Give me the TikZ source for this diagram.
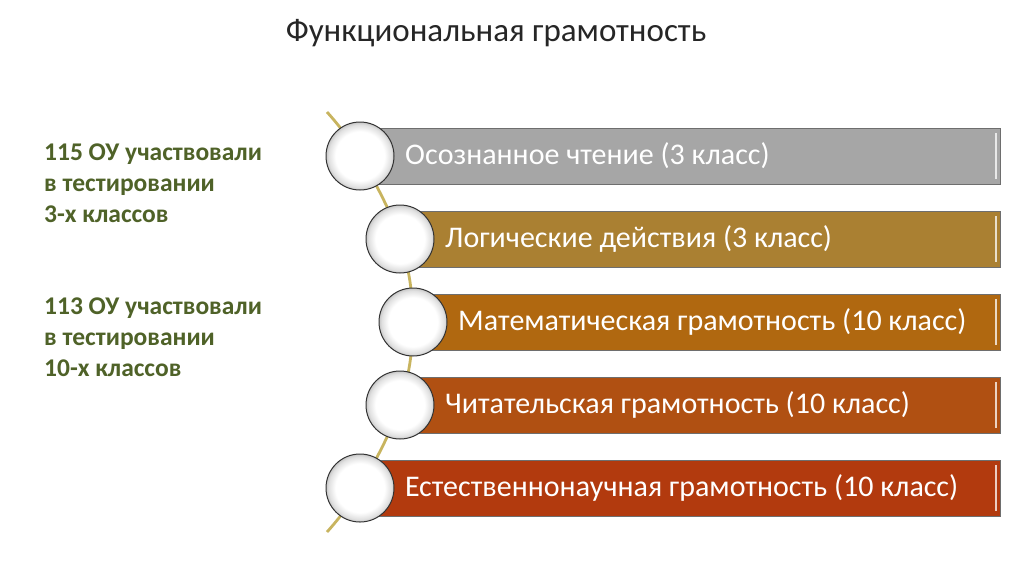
\documentclass[tikz,border=0pt]{standalone}
\usepackage{fontspec}
\setmainfont{Carlito}
\definecolor{barA}{RGB}{166,166,166}
\definecolor{barB}{RGB}{170,128,50}
\definecolor{barC}{RGB}{176,104,16}
\definecolor{barD}{RGB}{176,80,18}
\definecolor{barE}{RGB}{178,58,14}
\definecolor{barline}{RGB}{110,110,110}
\definecolor{spine}{RGB}{200,180,95}
\definecolor{leftgreen}{RGB}{79,98,40}
\pgfdeclareradialshading{circshade}{\pgfpoint{0bp}{0bp}}{color(0bp)=(white); color(18bp)=(white); color(23bp)=(black!12); color(25bp)=(black!22); color(50bp)=(black!22)}
\tikzset{
  barbox/.style={draw=barline, line width=0.9pt, minimum height=56pt, anchor=west, inner sep=0pt, outer sep=0pt},
  bartext/.style={anchor=west, text=white, font=\fontsize{30}{34}\selectfont, inner sep=0pt},
  circ/.style={circle, minimum size=68pt, inner sep=0pt, draw=black!80, line width=1pt, shading=circshade},
  lefttext/.style={anchor=north west, align=left, text=leftgreen, font=\bfseries\fontsize{25.5}{31}\selectfont, inner sep=0pt},
  spineline/.style={draw=spine, line width=2.8pt}
}
\newcommand{\barrow}[5]{% name, cx, cy, color, text
  \node[barbox, fill=#4, minimum width={1000-#2}] (b#1) at (#2,#3) {};
  \draw[white, opacity=0.75, line width=1.4pt] ([xshift=-4pt,yshift=-5pt]b#1.north east) -- ([xshift=-4pt,yshift=5pt]b#1.south east);
  \node[bartext] (t#1) at (#2+45,#3) {#5};
}
\begin{document}
\begin{tikzpicture}[x=1pt,y=-1pt]
\useasboundingbox (0,0) rectangle (1024,574);
\fill[white] (0,0) rectangle (1024,574);
\node[font=\fontsize{33}{38}\selectfont, text=black!85] (title) at (496,33) {Функциональная грамотность};
\node[lefttext] (l1) at (44,143.5) {115 ОУ участвовали\\в тестировании\\3-х классов};
\node[lefttext] (l2) at (44,298) {113 ОУ участвовали\\в тестировании\\10-х классов};
\coordinate (top) at (327,112);
\coordinate (bot) at (327,532);
\coordinate (p1) at (360,156);
\coordinate (p2) at (400,239);
\coordinate (p3) at (413,322);
\coordinate (p4) at (400,405);
\coordinate (p5) at (360,488);
\draw[spineline] plot[smooth, tension=0.6] coordinates {(top) (p1) (p2) (p3) (p4) (p5) (bot)};
\barrow{1}{360}{156}{barA}{Осознанное чтение (3 класс)}
\barrow{2}{400}{239}{barB}{Логические действия (3 класс)}
\barrow{3}{413}{322}{barC}{Математическая грамотность (10 класс)}
\barrow{4}{400}{405}{barD}{Читательская грамотность (10 класс)}
\barrow{5}{360}{488}{barE}{Естественнонаучная грамотность (10 класс)}
\node[circ] (c1) at (p1) {};
\node[circ] (c2) at (p2) {};
\node[circ] (c3) at (p3) {};
\node[circ] (c4) at (p4) {};
\node[circ] (c5) at (p5) {};
\end{tikzpicture}
\end{document}
